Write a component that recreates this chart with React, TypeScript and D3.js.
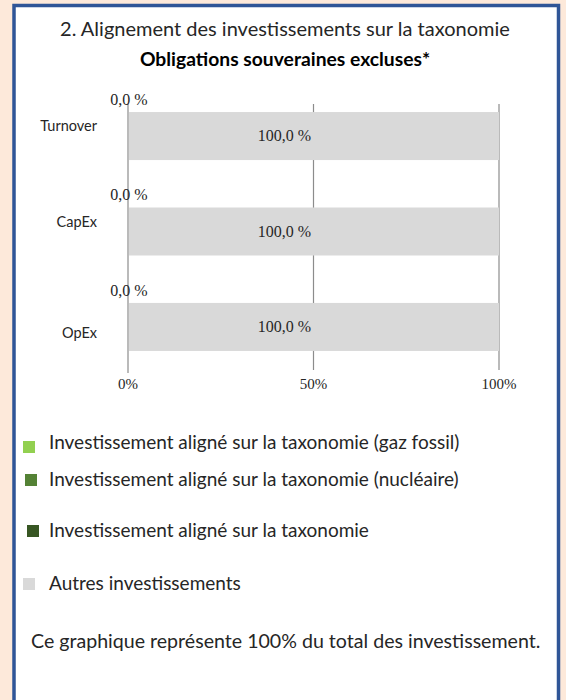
import React, { useEffect, useRef } from 'react';
import * as d3 from 'd3';

const categories = ['Turnover', 'CapEx', 'OpEx'];
const alignedValues = [0.0, 0.0, 0.0];
const otherValues = [100.0, 100.0, 100.0];
const tickValues = [0, 50, 100];

const legendLabels = [
  'Investissement aligné sur la taxonomie (gaz fossil)',
  'Investissement aligné sur la taxonomie (nucléaire)',
  'Investissement aligné sur la taxonomie',
  'Autres investissements',
];
const legendColors = ['#92d050', '#548235', '#375623', '#d9d9d9'];

const W = 566;
const H = 700;
const sansFont = 'Lato, "Open Sans", sans-serif';
const serifFont = '"Liberation Serif", "DejaVu Serif", serif';

export default function App() {
  const ref = useRef<SVGSVGElement>(null);

  useEffect(() => {
    const svg = d3.select(ref.current);
    svg.selectAll('*').remove();

    // background + frame
    svg.append('rect').attr('width', W).attr('height', H).attr('fill', '#fde9da');
    svg.append('rect')
      .attr('x', 14).attr('y', 5.5).attr('width', 544.5).attr('height', H)
      .attr('fill', '#ffffff').attr('stroke', '#2f5597').attr('stroke-width', 3.5);

    svg.append('text')
      .attr('x', 285).attr('y', 36)
      .attr('text-anchor', 'middle')
      .style('font-family', sansFont).style('font-size', '20px')
      .attr('fill', '#262626')
      .text('2. Alignement des investissements sur la taxonomie');
    svg.append('text')
      .attr('x', 285).attr('y', 66)
      .attr('text-anchor', 'middle')
      .style('font-family', sansFont).style('font-size', '19.3px').style('font-weight', 'bold')
      .attr('fill', '#000000')
      .text('Obligations souveraines excluses*');

    const x = d3.scaleLinear().domain([0, 100]).range([128, 499]);
    const y = d3.scaleBand().domain(categories).range([96, 367]).paddingInner(0.497).paddingOuter(0.168);

    // grid lines
    const g = svg.append('g');
    g.selectAll('line.grid')
      .data(tickValues)
      .join('line')
      .attr('class', 'grid')
      .attr('x1', d => x(d)).attr('x2', d => x(d))
      .attr('y1', 104).attr('y2', d => (d === 0 ? 373 : 370))
      .attr('stroke', '#8c8c8c').attr('stroke-width', 1.2);

    // bars (aligned + others stacked)
    categories.forEach((c, i) => {
      const yy = y(c)!;
      g.append('rect')
        .attr('x', x(0)).attr('y', yy)
        .attr('width', x(alignedValues[i]) - x(0)).attr('height', y.bandwidth())
        .attr('fill', legendColors[2]);
      g.append('rect')
        .attr('x', x(alignedValues[i]) + 1).attr('y', yy)
        .attr('width', x(alignedValues[i] + otherValues[i]) - x(alignedValues[i]) - 1)
        .attr('height', y.bandwidth())
        .attr('fill', '#d9d9d9');
      g.append('text')
        .attr('x', x(50) - 29).attr('y', yy + y.bandwidth() / 2 + 5)
        .attr('text-anchor', 'middle')
        .style('font-family', serifFont).style('font-size', '16px')
        .attr('fill', '#262626')
        .text(otherValues[i].toFixed(1).replace('.', ',') + ' %');
      g.append('text')
        .attr('x', x(alignedValues[i]) + 1).attr('y', yy - 7)
        .attr('text-anchor', 'middle')
        .style('font-family', serifFont).style('font-size', '16px')
        .attr('fill', '#262626')
        .text(alignedValues[i].toFixed(1).replace('.', ',') + ' %');
      const off = i === 2 ? 6 : -10;
      g.append('text')
        .attr('x', 97).attr('y', yy + y.bandwidth() / 2 + off + 5)
        .attr('text-anchor', 'end')
        .style('font-family', sansFont).style('font-size', '14.5px')
        .attr('fill', '#262626')
        .text(c);
    });

    // x tick labels
    g.selectAll('text.tick')
      .data(tickValues)
      .join('text')
      .attr('class', 'tick')
      .attr('x', d => x(d)).attr('y', 389)
      .attr('text-anchor', 'middle')
      .style('font-family', serifFont).style('font-size', '15px')
      .attr('fill', '#262626')
      .text(d => d + '%');

    // legend
    const legendY = [443, 480, 531, 584];
    const legendX = [23, 25, 27, 23];
    const lg = svg.append('g');
    legendLabels.forEach((l, i) => {
      lg.append('rect')
        .attr('x', legendX[i]).attr('y', legendY[i] - 6 + (i === 0 ? 4 : 0))
        .attr('width', 12).attr('height', 12)
        .attr('fill', legendColors[i]);
      lg.append('text')
        .attr('x', 49).attr('y', legendY[i] + 6)
        .style('font-family', sansFont).style('font-size', '19px')
        .attr('fill', '#262626')
        .text(l);
    });

    svg.append('text')
      .attr('x', 31).attr('y', 648)
      .style('font-family', sansFont).style('font-size', '19.6px')
      .attr('fill', '#262626')
      .text('Ce graphique représente 100% du total des investissement.');
  }, []);

  return (
    <svg ref={ref} width={W} height={H} style={{ position: 'absolute', left: 0, top: 0 }} />
  );
}
